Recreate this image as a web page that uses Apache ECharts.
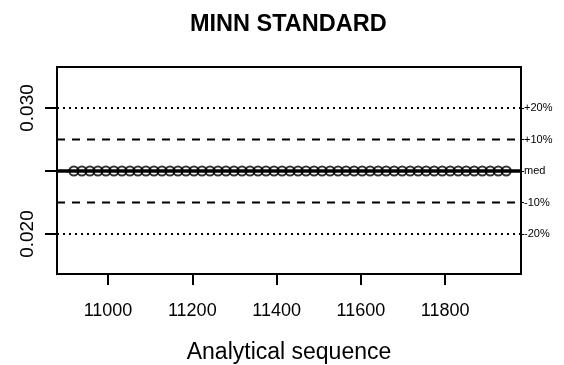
<!DOCTYPE html>
<html>
<head>
<meta charset="utf-8">
<script src="https://cdn.jsdelivr.net/npm/echarts@6/dist/echarts.min.js"></script>
<style>
    html, body { margin: 0; padding: 0; background: #fff; }
    #chart { width: 564px; height: 365px; }
</style>
</head>
<body>
<div id="chart"></div>
<script>
    // run numbers of the standard and its measured values
    var seqNo = [10919, 10938, 10957, 10976, 10995, 11014, 11033, 11052, 11071, 11090,
        11109, 11128, 11147, 11166, 11185, 11204, 11223, 11242, 11261, 11280,
        11299, 11318, 11337, 11356, 11375, 11394, 11413, 11432, 11451, 11470,
        11489, 11508, 11527, 11546, 11565, 11584, 11603, 11622, 11641, 11660,
        11679, 11698, 11717, 11736, 11755, 11774, 11793, 11812, 11831, 11850,
        11869, 11888, 11907, 11926, 11945];
    var stdValue = [0.025, 0.025, 0.025, 0.025, 0.025, 0.025, 0.025, 0.025, 0.025, 0.025,
        0.025, 0.025, 0.025, 0.025, 0.025, 0.025, 0.025, 0.025, 0.025, 0.025,
        0.025, 0.025, 0.025, 0.025, 0.025, 0.025, 0.025, 0.025, 0.025, 0.025,
        0.025, 0.025, 0.025, 0.025, 0.025, 0.025, 0.025, 0.025, 0.025, 0.025,
        0.025, 0.025, 0.025, 0.025, 0.025, 0.025, 0.025, 0.025, 0.025, 0.025,
        0.025, 0.025, 0.025, 0.025, 0.025];
    var median = 0.025;
    var xRange = [10879, 11980];
    var yRange = [0.01683, 0.03325];
    var xTicks = [11000, 11200, 11400, 11600, 11800];
    var yTicks = [0.020, 0.025, 0.030];
    var yLabels = [0.020, 0.030];
    var bandValues = [0.030, 0.0275, 0.025, 0.0225, 0.020];
    var bandLabels = ['+20%', '+10%', 'med', '-10%', '-20%'];

    var chart = (function (w, undefined) {
        'use strict';
        var myChart;
        var font = 'Liberation Sans, Arial, sans-serif';
        // horizontal reference line across the whole plot
        var hline = function (v, style) {
            return {
                type: 'line',
                data: [[xRange[0], v], [xRange[1], v]],
                symbol: 'none',
                silent: true,
                z: 1,
                lineStyle: style
            };
        };
        var build_fig = function () {
            myChart = echarts.init(document.getElementById('chart'));
            var pts = [];
            for (var i = 0; i < seqNo.length; i++) {
                pts.push([seqNo[i], stdValue[i]]);
            }
            var dotted = {color: '#000', width: 2, type: [2, 4]};
            var dashed = {color: '#000', width: 2, type: [8, 7]};
            var option = {
                animation: false,
                backgroundColor: '#fff',
                title: {
                    text: 'MINN STANDARD',
                    left: 185,
                    top: 8,
                    textStyle: {fontFamily: font, fontSize: 23.5, fontWeight: 'bold', color: '#000'}
                },
                grid: {
                    left: 57, right: 43, top: 67, bottom: 91,
                    outerBoundsMode: 'none',
                    containLabel: false,
                    show: true, borderColor: '#000', borderWidth: 2
                },
                xAxis: {
                    type: 'value',
                    min: xRange[0],
                    max: xRange[1],
                    name: 'Analytical sequence',
                    nameLocation: 'middle',
                    nameGap: 67,
                    nameTextStyle: {fontFamily: font, fontSize: 23, color: '#000'},
                    axisLine: {show: false},
                    axisTick: {show: true, length: 11, customValues: xTicks, lineStyle: {color: '#000', width: 2}},
                    axisLabel: {
                        customValues: xTicks, margin: 28, fontFamily: font, fontSize: 18, color: '#000',
                        formatter: function (v) { return String(v); }
                    },
                    splitLine: {show: false}
                },
                yAxis: [{
                    type: 'value',
                    min: yRange[0],
                    max: yRange[1],
                    position: 'left',
                    axisLine: {show: false},
                    axisTick: {show: true, length: 12, customValues: yTicks, lineStyle: {color: '#000', width: 2}},
                    axisLabel: {
                        customValues: yLabels, rotate: 90, margin: 20,
                        fontFamily: font, fontSize: 19, color: '#000',
                        formatter: function (v) { return v.toFixed(3); }
                    },
                    splitLine: {show: false}
                }, {
                    type: 'value',
                    min: yRange[0],
                    max: yRange[1],
                    position: 'right',
                    axisLine: {show: false},
                    axisTick: {show: true, length: 3, customValues: bandValues, lineStyle: {color: '#000', width: 1}},
                    axisLabel: {
                        customValues: bandValues, margin: 3,
                        fontFamily: font, fontSize: 11, color: '#000',
                        formatter: function (v) {
                            for (var k = 0; k < bandValues.length; k++) {
                                if (Math.abs(bandValues[k] - v) < 1e-6) return bandLabels[k];
                            }
                            return '';
                        }
                    },
                    splitLine: {show: false}
                }],
                series: [
                    hline(bandValues[0], dotted),
                    hline(bandValues[1], dashed),
                    hline(median, {color: '#000', width: 3.5, type: 'solid'}),
                    hline(bandValues[3], dashed),
                    hline(bandValues[4], dotted),
                    {
                        type: 'scatter',
                        data: pts,
                        symbol: 'circle',
                        symbolSize: 9,
                        z: 3,
                        itemStyle: {color: 'rgba(0,0,0,0)', borderColor: '#000', borderWidth: 2}
                    }
                ]
            };
            myChart.setOption(option);
        };
        return {init: build_fig};
    })(window);
    chart.init();
</script>
</body>
</html>
